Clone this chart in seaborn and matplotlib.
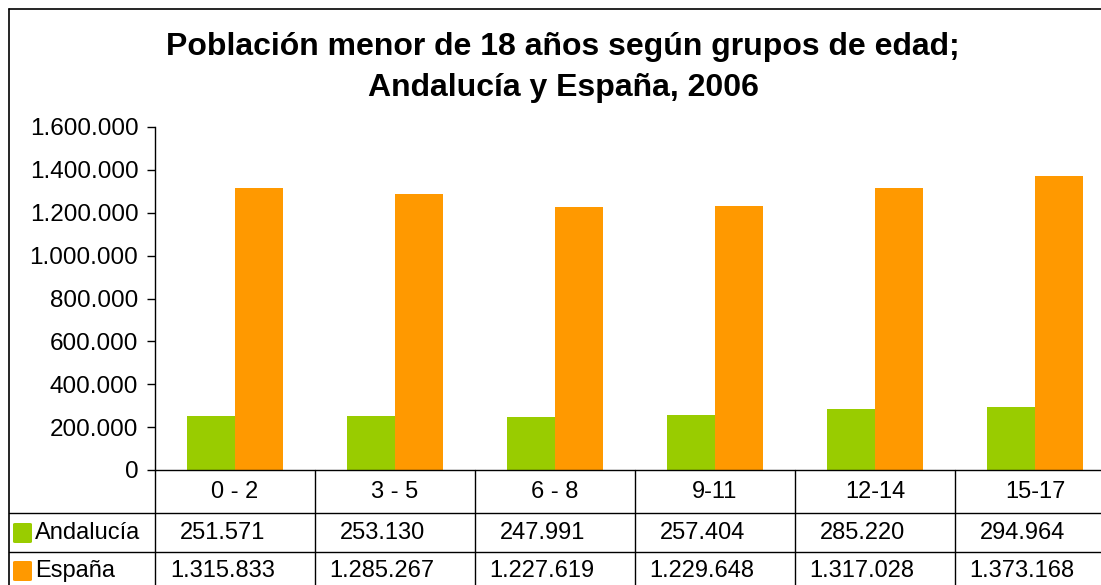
import numpy as np
import pandas as pd
import matplotlib
matplotlib.use("Agg")
import matplotlib.pyplot as plt
import seaborn as sns
from matplotlib.ticker import FuncFormatter
from matplotlib.lines import Line2D
from matplotlib.patches import FancyBboxPatch
from matplotlib.transforms import blended_transform_factory

# ---- data ----
grupos = ["0 - 2", "3 - 5", "6 - 8", "9-11", "12-14", "15-17"]
andalucia = [251571, 253130, 247991, 257404, 285220, 294964]
espana = [1315833, 1285267, 1227619, 1229648, 1317028, 1373168]
series = ["Andalucía", "España"]
colores = ["#99CC00", "#FF9900"]
titulo_l1 = "Población menor de 18 años según grupos de edad;"
titulo_l2 = "Andalucía y España, 2006"
yticks = [0, 200000, 400000, 600000, 800000, 1000000, 1200000, 1400000, 1600000]

sns.set_theme(style="white")
plt.rcParams['font.family'] = ['Liberation Sans', 'DejaVu Sans']
plt.rcParams['text.color'] = 'black'
plt.rcParams['ytick.color'] = 'black'
plt.rcParams['ytick.labelcolor'] = 'black'

W, H = 1101, 585
fig = plt.figure(figsize=(W / 100, H / 100), dpi=100)
fig.patch.set_facecolor("white")


def fx(px):
    return px / W


def fy(py):
    return 1 - py / H


ax = fig.add_axes([fx(155), fy(470), fx(1115) - fx(155), fy(127) - fy(470)])
df = pd.DataFrame({
    "grupo": grupos * 2,
    "serie": [series[0]] * len(grupos) + [series[1]] * len(grupos),
    "valor": andalucia + espana,
})
sns.barplot(data=df, x="grupo", y="valor", hue="serie", order=grupos,
            hue_order=series, palette=dict(zip(series, colores)),
            width=0.6, gap=0, saturation=1, legend=False, errorbar=None,
            linewidth=0, ax=ax)

ax.set_xlim(-0.5, len(grupos) - 0.5)
ax.set_ylim(yticks[0], yticks[-1])
ax.set_yticks(yticks)
ax.yaxis.set_major_formatter(FuncFormatter(lambda v, p: f"{int(v):,}".replace(",", ".")))
ax.set_xticks([])
ax.set_xlabel("")
ax.set_ylabel("")
for s in ["top", "right", "bottom"]:
    ax.spines[s].set_visible(False)
ax.spines["left"].set_color("black")
ax.spines["left"].set_linewidth(1)
ax.tick_params(axis="y", direction="out", length=6, width=1, color="black",
               labelcolor="black", labelsize=17.5, pad=6, left=True)
ax.patch.set_alpha(0)

# ---- title ----
fig.text(fx(563), fy(47), titulo_l1, ha="center", va="center", fontsize=23,
         fontweight="bold", color="black")
fig.text(fx(563), fy(88), titulo_l2, ha="center", va="center", fontsize=23,
         fontweight="bold", color="black")

# ---- data table ----
tr = blended_transform_factory(ax.transData, fig.transFigure)
lc = "black"
lw = 1
n = len(grupos)
fs = 17
fig.add_artist(Line2D([-0.5, n + 0.5], [fy(470), fy(470)], transform=tr, color=lc, lw=lw))
for yy in [513, 552]:
    fig.add_artist(Line2D([fx(9), 1.0], [fy(yy), fy(yy)], transform=fig.transFigure, color=lc, lw=lw))
for b in np.arange(-0.5, n + 0.5, 1.0):
    fig.add_artist(Line2D([b, b], [fy(470), 0], transform=tr, color=lc, lw=lw))
fig.add_artist(Line2D([fx(9), fx(9)], [fy(9), 0], transform=fig.transFigure, color=lc, lw=1.2))
fig.add_artist(Line2D([fx(9), 1.0], [fy(9), fy(9)], transform=fig.transFigure, color=lc, lw=1.2))

for i, g in enumerate(grupos):
    fig.text(i, fy(492), g, transform=tr, ha="center", va="center", fontsize=fs, color="black")

row_y = [533, 571]
for r, (name, col, vals) in enumerate(zip(series, colores, [andalucia, espana])):
    yc = row_y[r]
    fig.add_artist(FancyBboxPatch((fx(13), fy(yc + 10)), fx(19) - fx(0), fy(0) - fy(20),
                                  boxstyle="round,pad=0,rounding_size=0.002",
                                  transform=fig.transFigure, facecolor=col, edgecolor="none"))
    fig.text(fx(35), fy(yc), name, ha="left", va="center", fontsize=fs, color="black")
    for i, v in enumerate(vals):
        fig.text(i - 0.08, fy(yc), f"{v:,}".replace(",", "."), transform=tr,
                 ha="center", va="center", fontsize=fs, color="black")

fig.savefig("out.png", dpi=100)
